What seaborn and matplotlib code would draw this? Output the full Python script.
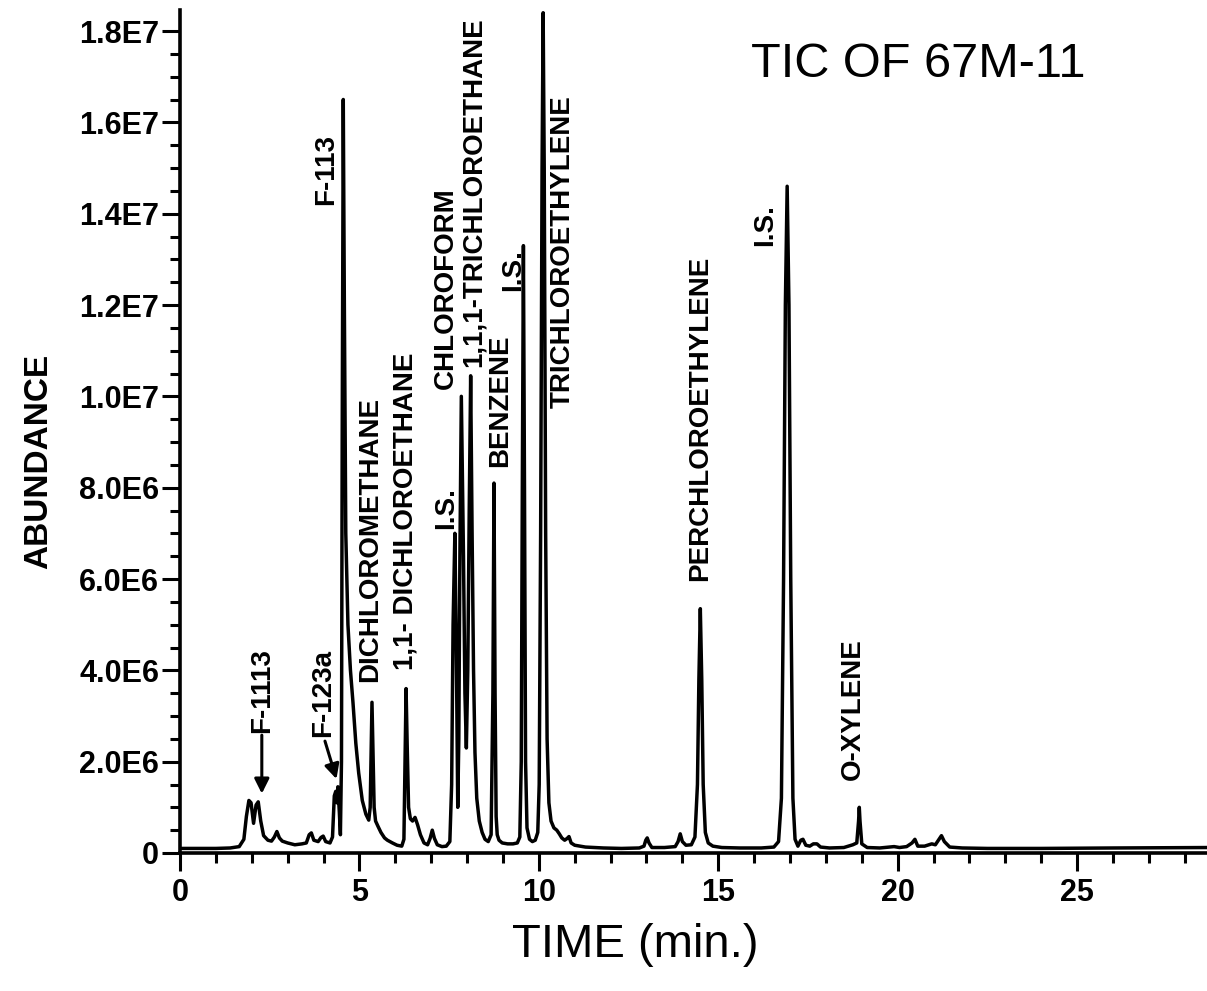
import numpy as np
import pandas as pd
import matplotlib
matplotlib.use("Agg")
import matplotlib.pyplot as plt
from matplotlib import font_manager
from matplotlib.ticker import MultipleLocator, FixedLocator, FixedFormatter
import seaborn as sns

# ---------------- data ----------------
trace_time = [
    0.0, 0.5, 1.0, 1.4, 1.65, 1.78, 1.85, 1.92, 1.98, 2.05, 2.12, 2.18, 2.25, 2.33, 2.45,
    2.55, 2.63, 2.70, 2.77, 2.85, 3.0, 3.2, 3.4, 3.52, 3.6, 3.66, 3.73, 3.85, 3.93, 3.99,
    4.06, 4.18, 4.25, 4.30, 4.34, 4.37, 4.40, 4.44, 4.47, 4.50, 4.52, 4.55, 4.58, 4.62,
    4.68, 4.75, 4.82, 4.90, 4.98, 5.08, 5.18, 5.26, 5.30, 5.33, 5.35, 5.38, 5.41, 5.45,
    5.52, 5.60, 5.70, 5.78, 5.85, 5.92, 6.05, 6.18, 6.24, 6.27, 6.30, 6.33, 6.37, 6.42,
    6.48, 6.55, 6.62, 6.70, 6.80, 6.90, 6.97, 7.03, 7.09, 7.17, 7.30, 7.42, 7.52, 7.57,
    7.61, 7.66, 7.70, 7.74, 7.77, 7.80, 7.84, 7.90, 7.94, 7.98, 8.02, 8.06, 8.10, 8.14,
    8.18, 8.22, 8.27, 8.34, 8.42, 8.50, 8.59, 8.67, 8.72, 8.75, 8.78, 8.81, 8.84, 8.89,
    8.98, 9.13, 9.28, 9.40, 9.47, 9.51, 9.54, 9.57, 9.60, 9.63, 9.67, 9.74, 9.82, 9.90,
    9.97, 10.01, 10.05, 10.09, 10.12, 10.15, 10.19, 10.23, 10.28, 10.34, 10.42, 10.50,
    10.57, 10.64, 10.72, 10.79, 10.84, 10.90, 11.0, 11.3, 11.8, 12.3, 12.8, 12.93, 12.98,
    13.02, 13.07, 13.15, 13.5, 13.8, 13.88, 13.94, 14.0, 14.1, 14.25, 14.35, 14.42, 14.46,
    14.50, 14.54, 14.58, 14.64, 14.72, 14.85, 15.1, 15.6, 16.2, 16.55, 16.68, 16.76, 16.82,
    16.87, 16.92, 16.97, 17.02, 17.08, 17.14, 17.22, 17.30, 17.36, 17.44, 17.55, 17.65,
    17.75, 17.85, 18.1, 18.5, 18.75, 18.86, 18.91, 18.93, 18.95, 19.0, 19.15, 19.5, 19.9,
    20.05, 20.25, 20.40, 20.48, 20.56, 20.75, 20.95, 21.05, 21.15, 21.22, 21.30, 21.45,
    21.8, 22.5, 24.0, 26.0, 28.7,
]
trace_abundance_e6 = [
    0.10, 0.10, 0.10, 0.11, 0.14, 0.30, 0.80, 1.15, 1.10, 0.65, 1.05, 1.12, 0.70, 0.38, 0.28,
    0.26, 0.35, 0.47, 0.33, 0.26, 0.22, 0.18, 0.20, 0.22, 0.40, 0.44, 0.28, 0.25, 0.34, 0.37,
    0.25, 0.22, 0.35, 1.25, 1.35, 1.10, 1.45, 0.90, 0.40, 2.00, 9.00, 16.5, 12.0, 7.00,
    5.00, 4.00, 3.30, 2.40, 1.75, 1.15, 0.85, 0.72, 1.00, 2.40, 3.30, 2.20, 1.00, 0.70,
    0.58, 0.45, 0.33, 0.28, 0.25, 0.22, 0.17, 0.15, 0.30, 2.00, 3.60, 2.40, 1.00, 0.75,
    0.70, 0.78, 0.62, 0.40, 0.22, 0.18, 0.32, 0.50, 0.32, 0.18, 0.14, 0.15, 0.25, 1.50,
    5.00, 7.00, 4.50, 1.00, 2.50, 6.50, 10.0, 6.50, 3.50, 2.30, 4.00, 7.50, 10.45, 7.00,
    4.00, 2.20, 1.20, 0.70, 0.45, 0.30, 0.25, 0.40, 3.50, 8.10, 3.50, 0.80, 0.40, 0.28,
    0.22, 0.20, 0.20, 0.22, 0.35, 2.00, 8.00, 13.3, 8.00, 2.00, 0.55, 0.30, 0.25, 0.28,
    0.45, 1.50, 7.00, 15.0, 18.4, 15.0, 7.00, 2.50, 1.10, 0.70, 0.55, 0.50,
    0.42, 0.33, 0.28, 0.32, 0.36, 0.22, 0.17, 0.13, 0.11, 0.10, 0.11, 0.15, 0.28,
    0.33, 0.22, 0.12, 0.12, 0.14, 0.25, 0.42, 0.25, 0.17, 0.18, 0.35, 1.50, 3.80,
    5.35, 3.80, 1.50, 0.45, 0.22, 0.15, 0.12, 0.11, 0.11, 0.13, 0.25, 1.20, 6.00,
    12.0, 14.6, 12.0, 6.00, 1.20, 0.30, 0.15, 0.28, 0.30, 0.17, 0.15, 0.20,
    0.20, 0.13, 0.11, 0.12, 0.18, 0.22, 0.70, 1.00, 0.70, 0.20, 0.12, 0.11, 0.14,
    0.12, 0.14, 0.22, 0.30, 0.15, 0.15, 0.20, 0.18, 0.30, 0.38, 0.25, 0.13,
    0.11, 0.10, 0.10, 0.11, 0.12,
]

peak_names = ["F-113", "DICHLOROMETHANE", "1,1- DICHLOROETHANE", "I.S.", "CHLOROFORM",
              "1,1,1-TRICHLOROETHANE", "BENZENE", "I.S.", "TRICHLOROETHYLENE",
              "PERCHLOROETHYLENE", "I.S.", "O-XYLENE"]
arrow_names = ["F-1113", "F-123a"]

x_ticks = [0, 5, 10, 15, 20, 25]
x_tick_labels = ["0", "5", "10", "15", "20", "25"]
y_ticks_e6 = [0, 2, 4, 6, 8, 10, 12, 14, 16, 18]
y_tick_labels = ["0", "2.0E6", "4.0E6", "6.0E6", "8.0E6", "1.0E7", "1.2E7", "1.4E7", "1.6E7", "1.8E7"]
title_text = "TIC OF 67M-11"
x_label = "TIME (min.)"
y_label = "ABUNDANCE"

# ---------------- placement (layout, not data) ----------------
# label anchor: (time, abundance at text bottom, in 1E6)
peak_label_pos = [(4.08, 14.2), (5.30, 3.75), (6.28, 4.0), (7.42, 7.1), (7.42, 10.15),
                  (8.18, 10.65), (8.92, 8.45), (9.28, 12.3), (10.66, 9.75),
                  (14.50, 5.95), (16.30, 13.3), (18.74, 1.6)]
arrow_label_pos = [(2.28, 2.62), (4.00, 2.55)]
arrow_tail = [(2.28, 2.58), (4.04, 2.45)]
arrow_tip = [(2.28, 1.30), (4.36, 1.62)]

# ---------------- style ----------------
sns.set_style("ticks")
available = {f.name for f in font_manager.fontManager.ttflist}
base_font = "Liberation Sans" if "Liberation Sans" in available else "DejaVu Sans"
plt.rcParams["font.family"] = [base_font, "DejaVu Sans"]
plt.rcParams["text.color"] = "black"
plt.rcParams["axes.labelcolor"] = "black"

W, H = 1207, 991
fig = plt.figure(figsize=(W / 100, H / 100), dpi=100)
ax_left, ax_right, ax_top, ax_bottom = 180, 1207, 10, 853
ax = fig.add_axes([ax_left / W, 1 - ax_bottom / H, (ax_right - ax_left) / W, (ax_bottom - ax_top) / H])

df = pd.DataFrame({"time": trace_time, "abundance": np.array(trace_abundance_e6) * 1e6})
sns.lineplot(data=df, x="time", y="abundance", estimator=None, sort=False,
             color="black", linewidth=2.5, ax=ax)

ax.set_xlim(0, 28.62)
ax.set_ylim(0, 18.46e6)

for s in ["top", "right"]:
    ax.spines[s].set_visible(False)
for s in ["left", "bottom"]:
    ax.spines[s].set_linewidth(2.6)
    ax.spines[s].set_color("black")

ax.xaxis.set_major_locator(FixedLocator(x_ticks))
ax.xaxis.set_major_formatter(FixedFormatter(x_tick_labels))
ax.xaxis.set_minor_locator(MultipleLocator(1))
ax.yaxis.set_major_locator(FixedLocator([v * 1e6 for v in y_ticks_e6]))
ax.yaxis.set_major_formatter(FixedFormatter(y_tick_labels))
ax.yaxis.set_minor_locator(MultipleLocator(0.5e6))

ax.tick_params(axis="both", which="major", direction="out", length=13, width=2.2,
               color="black", labelsize=22, labelcolor="black")
ax.tick_params(axis="both", which="minor", direction="out", length=7, width=2.2, color="black")
ax.tick_params(axis="x", which="major", pad=5)
ax.tick_params(axis="y", which="major", pad=2)
for lab in ax.get_xticklabels() + ax.get_yticklabels():
    lab.set_fontweight("bold")

ax.set_xlabel(x_label, fontsize=34, fontweight="normal", va="center", color="black")
ax.xaxis.set_label_coords(0.443, -0.109)
ax.set_ylabel(y_label, fontsize=24, fontweight="bold", va="center", color="black")
ax.yaxis.set_label_coords(-0.138, 0.465)

ax.text(0.7186, 0.935, title_text, transform=ax.transAxes, ha="center", va="center",
        fontsize=35, color="black")

for name, (t, a) in zip(peak_names, peak_label_pos):
    ax.text(t, a * 1e6, name, rotation=90, ha="center", va="bottom", fontsize=20,
            fontweight="bold", color="black")

for name, (t, a) in zip(arrow_names, arrow_label_pos):
    ax.text(t, a * 1e6, name, rotation=90, ha="center", va="bottom", fontsize=20,
            fontweight="bold", color="black")
for (t0, a0), (t1, a1) in zip(arrow_tail, arrow_tip):
    ax.annotate("", xy=(t1, a1 * 1e6), xytext=(t0, a0 * 1e6),
                arrowprops=dict(arrowstyle="-|>", lw=2.2, color="black",
                                mutation_scale=22, shrinkA=0, shrinkB=0))

fig.savefig("out.png", dpi=100)
